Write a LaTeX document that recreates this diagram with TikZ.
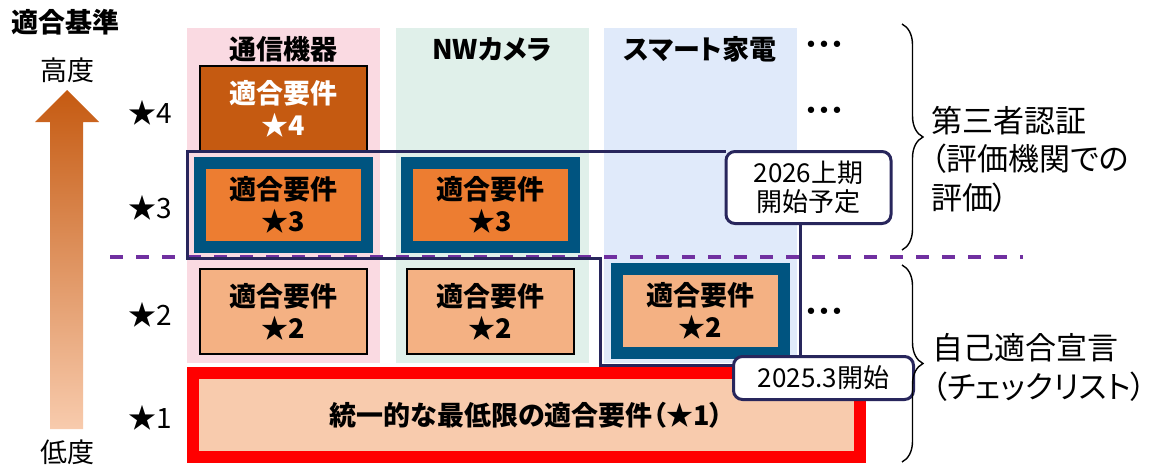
\documentclass[tikz,border=0pt]{standalone}
\usepackage{fontspec}
\setmainfont{Noto Sans CJK JP}[RawFeature=+palt]
\newfontfamily\dejavu{DejaVu Sans}
\usetikzlibrary{decorations.pathreplacing}
\definecolor{pinkbg}{RGB}{250,218,226}
\definecolor{greenbg}{RGB}{224,240,234}
\definecolor{bluebg}{RGB}{224,234,250}
\definecolor{cfour}{RGB}{197,90,17}
\definecolor{cthree}{RGB}{237,125,49}
\definecolor{ctwo}{RGB}{244,177,131}
\definecolor{cone}{RGB}{248,203,173}
\definecolor{tealb}{RGB}{0,84,128}
\definecolor{navyb}{RGB}{40,38,92}
\definecolor{purpled}{RGB}{112,48,160}
\definecolor{redb}{RGB}{255,0,0}
\newcommand{\reqfont}{\fontsize{27}{32}\selectfont\bfseries}
\begin{document}
\begin{tikzpicture}[x=1pt,y=1pt,
  every node/.style={inner sep=0pt, outer sep=0pt},
  colbg/.style={anchor=south west, draw=none, minimum height=335pt, minimum width=193pt},
  reqbox/.style={draw=black, line width=1.6pt, minimum width=167pt, minimum height=85pt, align=center, font=\reqfont},
  reqthree/.style={fill=cthree, draw=tealb, line width=12pt, minimum width=167pt, minimum height=84pt, align=center, font=\reqfont},
  lvl/.style={font=\fontsize{28}{30}\selectfont},
  hdr/.style={font=\fontsize{27}{30}\selectfont\bfseries},
  dotsty/.style={font=\dejavu\fontsize{22}{24}\selectfont},
  tag/.style={draw=navyb, line width=3pt, fill=white, rounded corners=9pt, align=center, font=\fontsize{26}{29}\selectfont},
  outl/.style={draw=navyb, line width=3pt},
  bracestyle/.style={decorate, decoration={brace, amplitude=21pt}, line width=1.4pt},
  sidetext/.style={align=left, anchor=west, font=\fontsize{31}{38.5}\selectfont}
]
\useasboundingbox (0,0) rectangle (1155,467);
\fill[white] (0,0) rectangle (1155,467);

% columns
\node[colbg, fill=pinkbg] (c1) at (187,104) {};
\node[colbg, fill=greenbg] (c2) at (396,104) {};
\node[colbg, fill=bluebg] (c3) at (604,104) {};
\node[hdr] (h1) at (283,418) {通信機器};
\node[hdr] (h2) at (492,418) {NWカメラ};
\node[hdr] (h3) at (700,418) {スマート家電};

% left axis
\node[font=\fontsize{27}{30}\selectfont\bfseries] (title) at (65,445) {適合基準};
\node[font=\fontsize{27}{30}\selectfont] (hi) at (67,397) {高度};
\node[font=\fontsize{27}{30}\selectfont] (lo) at (67,15) {低度};
\shade[top color=cfour, bottom color=cone] (50,38) -- (50,345) -- (35,345) -- (67,377) -- (99,345) -- (83,345) -- (83,38) -- cycle;
\node[lvl] (l4) at (150,354) {★4};
\node[lvl] (l3) at (150,259) {★3};
\node[lvl] (l2) at (150,152) {★2};
\node[lvl] (l1) at (150,49) {★1};

% dashed separator
\coordinate (dl) at (110,210);
\coordinate (dr) at (1023,210);
\draw[purpled, line width=4pt, dash pattern=on 13pt off 13pt] (dl) -- (dr);

% requirement boxes
\node[reqbox, fill=cfour, text=white] (r4a) at (283.5,358.5) {適合要件\\★4};
\node[reqthree] (r3a) at (283.5,262) {適合要件\\★3};
\node[reqthree] (r3b) at (490,262) {適合要件\\★3};
\node[reqbox, fill=ctwo] (r2a) at (283.5,155.5) {適合要件\\★2};
\node[reqbox, fill=ctwo] (r2b) at (490.5,155.5) {適合要件\\★2};
\node[reqthree, fill=ctwo, minimum height=84.5pt] (r2c) at (700.5,156) {適合要件\\★2};
\node[draw=redb, fill=cone, line width=12pt, minimum width=667pt, minimum height=84pt, font=\reqfont] (r1) at (526.5,52) {統一的な最低限の適合要件（★1）};

% dots
\node[dotsty] (d1) at (824,420) {•••};
\node[dotsty] (d2) at (824,354) {•••};
\node[dotsty] (d3) at (824,153) {•••};

% tags
\node[tag, minimum width=165pt, minimum height=72pt] (lab26) at (808.5,279.5) {2026上期\\開始予定};
\node[tag, minimum width=180pt, minimum height=43pt] (lab25) at (823.5,89) {2025.3開始};

% navy outline
\coordinate (tl) at (187,316);
\coordinate (bl) at (187,209);
\coordinate (jt) at (600,209);
\coordinate (jb) at (600,102);
\coordinate (vx) at (800,0);
\draw[outl] (lab26.west |- tl) -- (tl) -- (bl) -- (jt) -- (jb) -- (lab25.west |- jb);
\draw[outl] (lab26.south -| vx) -- (lab25.north -| vx);

% braces
\coordinate (b1t) at (902,443);
\coordinate (b1b) at (902,217);
\coordinate (b2t) at (902,202);
\coordinate (b2b) at (902,5);
\draw[bracestyle] (b1t) -- (b1b);
\draw[bracestyle] (b2t) -- (b2b);

% side texts
\node[sidetext] (s1) at (931,308) {第三者認証\\（評価機関での\\評価）};
\node[sidetext] (s2) at (932,99.5) {自己適合宣言\\（チェックリスト）};
\end{tikzpicture}
\end{document}
